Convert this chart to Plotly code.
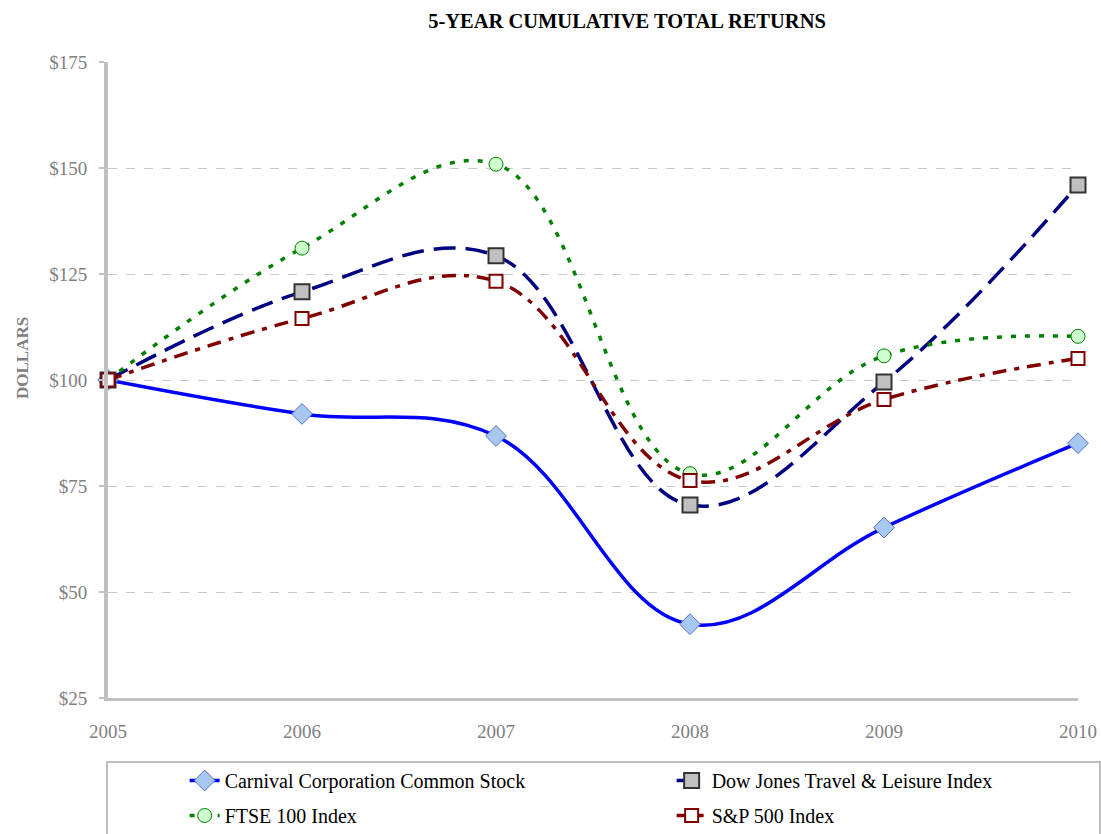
import plotly.graph_objects as go

years = [2005, 2006, 2007, 2008, 2009, 2010]
carnival = [100, 92.0, 86.8, 42.4, 65.2, 85.1]
dow_jones = [100, 120.8, 129.3, 70.5, 99.5, 146.0]
ftse = [100, 131.1, 150.9, 77.9, 105.7, 110.3]
sp500 = [100, 114.5, 123.3, 76.3, 95.4, 105.1]

names = ["Carnival Corporation Common Stock", "Dow Jones Travel & Leisure Index",
         "FTSE 100 Index", "S&P 500 Index"]

serif = "Liberation Serif, Times New Roman, serif"
gray = "#808080"

fig = go.Figure()
fig.add_trace(go.Scatter(
    x=years, y=carnival, name=names[0], mode="lines+markers", legend="legend",
    line=dict(color="#0000FF", width=3.5, shape="spline", smoothing=1.1),
    marker=dict(symbol="diamond", size=16, color="#A6C8F0", line=dict(color="#5A6EC8", width=1)),
    cliponaxis=False))
fig.add_trace(go.Scatter(
    x=years, y=dow_jones, name=names[1], mode="lines+markers", legend="legend",
    line=dict(color="#000080", width=3.5, dash="22px,10px", shape="spline", smoothing=1.1),
    marker=dict(symbol="square", size=15, color="#C0C0C0", line=dict(color="#333333", width=2)),
    cliponaxis=False))
fig.add_trace(go.Scatter(
    x=years, y=ftse, name=names[2], mode="lines+markers", legend="legend2",
    line=dict(color="#008000", width=3.5, dash="5px,9px", shape="spline", smoothing=1.1),
    marker=dict(symbol="circle", size=14, color="#CCFFCC", line=dict(color="#008000", width=1)),
    cliponaxis=False))
fig.add_trace(go.Scatter(
    x=years, y=sp500, name=names[3], mode="lines+markers", legend="legend2",
    line=dict(color="#800000", width=3.5, dash="14px,8px,5px,8px", shape="spline", smoothing=1.1),
    marker=dict(symbol="square", size=13, color="#FFFFFF", line=dict(color="#800000", width=2)),
    cliponaxis=False))

legend_common = dict(orientation="h", x=0.079, xanchor="left", yanchor="top",
                     entrywidth=442, entrywidthmode="pixels", traceorder="normal",
                     font=dict(family=serif, size=20, color="black"),
                     bgcolor="rgba(0,0,0,0)", borderwidth=0)

fig.update_layout(
    width=1101, height=834,
    margin=dict(l=108, r=23, t=62, b=136, autoexpand=False),
    paper_bgcolor="white", plot_bgcolor="white",
    title=dict(text="<b>5-YEAR CUMULATIVE TOTAL RETURNS</b>", x=627 / 1101, xanchor="center",
               y=1 - 21 / 834, yanchor="middle", font=dict(family=serif, size=20.5, color="black")),
    font=dict(family=serif),
    showlegend=True,
    legend=dict(legend_common, y=-63 / 636),
    legend2=dict(legend_common, y=-98 / 636),
    shapes=[dict(type="rect", xref="paper", yref="paper",
                 x0=-1 / 970, x1=992 / 970, y0=-64 / 636, y1=-200 / 636,
                 line=dict(color="#BFBFBF", width=2), fillcolor="rgba(0,0,0,0)", layer="below")],
    annotations=[dict(text="<b>DOLLARS</b>", xref="paper", yref="paper",
                      x=(22 - 108) / 970, y=(698 - 358) / 636, xanchor="center", yanchor="middle",
                      textangle=-90, showarrow=False,
                      font=dict(family=serif, size=17, color=gray))],
)

fig.update_xaxes(range=[2005, 2010], tickmode="array", tickvals=years,
                 ticktext=[str(y) for y in years], showgrid=False, zeroline=False,
                 showline=True, linecolor="#C0C0C0", linewidth=3,
                 tickfont=dict(family=serif, size=19, color=gray), ticks="", ticklen=0,
                 ticklabelstandoff=14, automargin=False)
fig.update_yaxes(range=[25, 175], dtick=25, tick0=25, tickprefix="$",
                 showgrid=True, gridcolor="#C8C8C8", griddash="dash", gridwidth=1,
                 zeroline=False, showline=True, linecolor="#C0C0C0", linewidth=4,
                 ticks="outside", ticklen=5, tickcolor="#C0C0C0", tickwidth=2,
                 ticklabelstandoff=8, automargin=False,
                 tickfont=dict(family=serif, size=19, color=gray))

fig.write_html("out.html", config={"displayModeBar": False},
               post_script="document.body.style.margin='0';document.body.style.overflow='hidden';")
